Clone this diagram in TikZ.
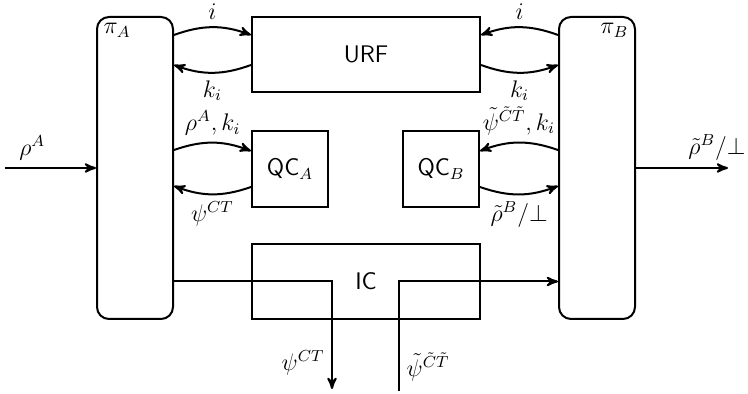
\documentclass[tikz,border=0pt]{standalone}
\usetikzlibrary{arrows}
\begin{document}
\begin{tikzpicture}[x=0.5pt,y=0.5pt,line width=1pt,>=stealth',
    every node/.style={font=\large},
    party/.style={draw,rounded corners=6pt,minimum width=38pt,minimum height=151pt},
    block/.style={draw,font=\large\sffamily,minimum width=114pt,minimum height=37.5pt},
    qcbox/.style={draw,font=\large\sffamily,minimum width=38pt,minimum height=38pt}]
    \useasboundingbox(0,0)rectangle(748,394);
    % parties and boxes
    \node[party](piA)at(135,226){};
    \node[party](piB)at(597,226){};
    \node[anchor=north west](lpiA)at(piA.north west){$\pi_A$};
    \node[anchor=north east](lpiB)at(piB.north east){$\pi_B$};
    \node[block](urf)at(366,339.5){URF};
    \node[qcbox](qcA)at(290,225){QC$_A$};
    \node[qcbox](qcB)at(441,225){QC$_B$};
    \node[block](ic)at(366,112.5){IC};
    \coordinate(inA)at(5,226);
    \coordinate(outB)at(728,226);
    \coordinate(psiA)at(332,5);
    \coordinate(psiB)at(399,3);
    % URF
    \draw[->]([yshift=-9.5pt]piA.north east)to[bend left=20]node[above](li1){$i$}([yshift=-9.5pt]urf.north west);
    \draw[->]([yshift=-24.5pt]urf.north west)to[bend left=20]node[below](lk1){$k_i$}([yshift=-24.5pt]piA.north east);
    \draw[->]([yshift=-9.5pt]piB.north west)to[bend right=20]node[above](li2){$i$}([yshift=-9.5pt]urf.north east);
    \draw[->]([yshift=-24.5pt]urf.north east)to[bend right=20]node[below](lk2){$k_i$}([yshift=-24.5pt]piB.north west);
    % QC
    \draw[->]([yshift=9pt]piA.east)to[bend left=20]node[above](lqa1){$\rho^A,k_i$}([yshift=9pt]qcA.west);
    \draw[->]([yshift=-9pt]qcA.west)to[bend left=20]node[below](lqa2){$\psi^{CT}$}([yshift=-9pt]piA.east);
    \draw[->]([yshift=9pt]piB.west)to[bend right=20]node[above](lqb1){$\tilde{\psi}^{\tilde{C}\tilde{T}},k_i$}([yshift=9pt]qcB.east);
    \draw[->]([yshift=-9pt]qcB.east)to[bend right=20]node[below](lqb2){$\tilde{\rho}^B/\bot$}([yshift=-9pt]piB.west);
    % in and out
    \draw[->](inA)--node[above,pos=0.3](lin){$\rho^A$}(piA.west);
    \draw[->](piB.east)--node[above,pos=0.88](lout){$\tilde{\rho}^B/\bot$}(outB);
    % IC
    \draw[->](piA.east|-ic.west)-|node[left,pos=0.88](lpsiA){$\psi^{CT}$}(psiA);
    \draw[->](psiB)|-node[right,pos=0.11](lpsiB){$\tilde{\psi}^{\tilde{C}\tilde{T}}$}(piB.west|-ic.east);
\end{tikzpicture}
\end{document}
